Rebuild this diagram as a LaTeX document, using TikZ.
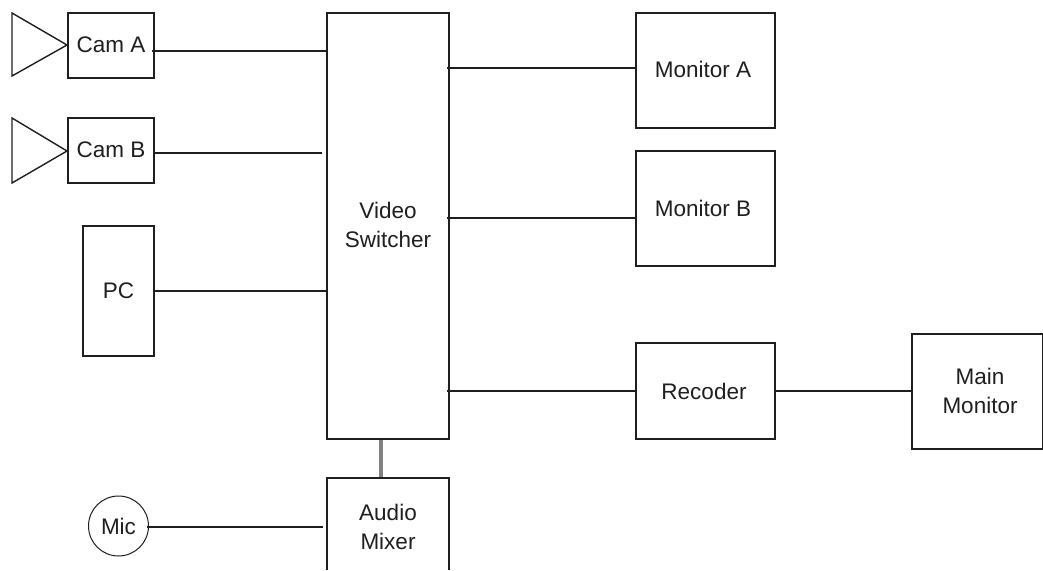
\documentclass[tikz,border=0pt]{standalone}
\usepackage{fontspec}
\setmainfont{Liberation Sans}
\definecolor{ink}{gray}{0.12}
\tikzset{
 bx/.style={draw=ink,line width=1.4pt,fill=white,inner sep=0pt,align=center,text=ink,font=\fontsize{22.5pt}{28.5pt}\selectfont},
 ln/.style={draw=ink,line width=1.4pt},
}
\begin{document}
\begin{tikzpicture}[x=1pt,y=-1pt]
\useasboundingbox (0,0) rectangle (1043,570);
\path[fill=white] (0,0) rectangle (1043,570);
\def\bxat#1#2#3#4#5#6{\node[bx,minimum width=#4pt-#2pt,minimum height=#5pt-#3pt] (#1) at ({(#2+#4)/2},{(#3+#5)/2}) {#6};}
\draw[ln,fill=white] (12,13) -- (67,45) -- (12,76) -- cycle;
\draw[ln,fill=white] (12,118) -- (67,151) -- (12,183) -- cycle;
\bxat{camA}{68}{13}{154}{78}{\raisebox{1.5pt}{Cam A}}
\bxat{camB}{68}{118}{154}{183}{\raisebox{1.5pt}{Cam B}}
\bxat{pc}{83}{226}{154}{356}{PC}
\bxat{vs}{327}{13}{449}{439}{}
\bxat{mA}{636}{13}{775}{128}{}
\bxat{mB}{636}{151}{775}{266}{}
\bxat{rec}{636}{343}{775}{439}{}
\bxat{main}{912}{334}{1043}{449}{}
\node[bx,circle,line width=1pt,minimum size=60pt] (mic) at (118.5,526) {Mic};
\draw[ln,fill=white] (327,570) -- (327,478) -- (449,478) -- (449,570);
\node[bx,draw=none,fill=none,minimum width=122pt,minimum height=92pt] (mix) at (388,527) {Audio\\Mixer};
\node[bx,draw=none,fill=none] (vst) at (388,225) {Video\\Switcher};
\node[bx,draw=none,fill=none] (mAt) at (703,69) {Monitor A};
\node[bx,draw=none,fill=none] (mBt) at (703,208) {Monitor B};
\node[bx,draw=none,fill=none] (rect) at (704,391) {Recoder};
\node[bx,draw=none,fill=none] (maint) at (980,391) {Main\\Monitor};
\coordinate (a1) at (152,51);
\coordinate (a2) at (322,153);
\coordinate (b1) at (447,68);
\coordinate (b2) at (447,218);
\coordinate (b3) at (447,391);
\coordinate (m1) at (147,527);
\coordinate (m2) at (323,527);
\draw[ln] (a1) -- (vs.west |- a1);
\draw[ln] (camB.east |- a2) -- (a2);
\draw[ln] (pc.east |- 0,291) -- (vs.west |- 0,291);
\draw[ln] (b1) -- (mA.west |- b1);
\draw[ln] (b2) -- (mB.west |- b2);
\draw[ln] (b3) -- (rec.west |- b3);
\draw[ln] (rec.east |- 0,391) -- (main.west |- 0,391);
\draw[ln] (m1) -- (m2);
\draw[draw=gray,line width=3.5pt] (381,439.7) -- (381,477.3);
\end{tikzpicture}
\end{document}
